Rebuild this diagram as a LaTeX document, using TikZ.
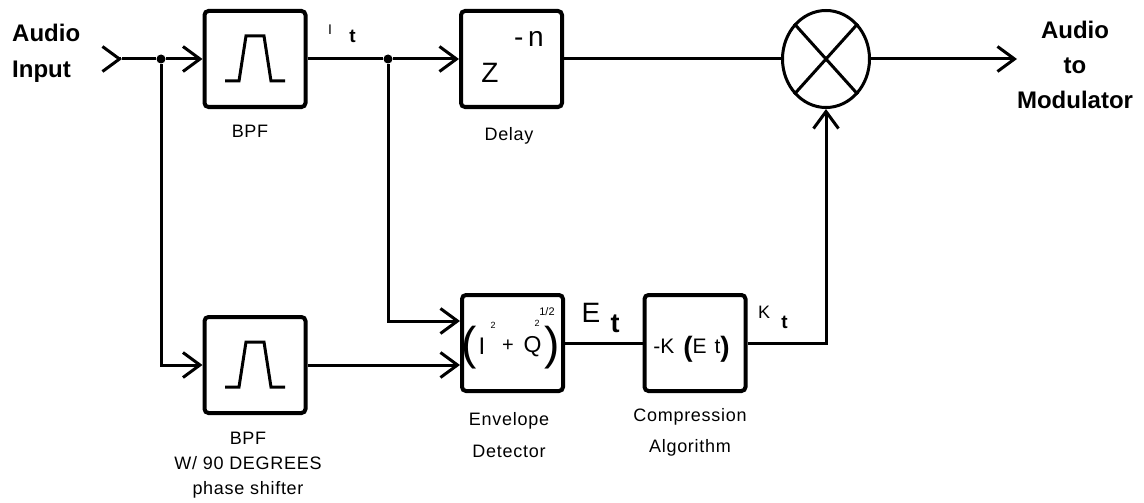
\documentclass[tikz,border=0pt]{standalone}
\usepackage{fontspec}
\setmainfont{Liberation Sans}
\newfontfamily\capfont{Liberation Sans}[LetterSpace=4]
\usetikzlibrary{arrows.meta,shapes.geometric,calc}

\tikzset{
  wire/.style={line width=3pt},
  flow/.style={wire,-{Straight Barb[length=17pt,width=25pt]}},
  block/.style={draw,line width=4pt,rounded corners=4pt,minimum width=101pt,minimum height=96pt,inner sep=0pt},
  mixer/.style={draw,ellipse,line width=3pt,minimum width=87pt,minimum height=97pt,inner sep=0pt},
  dot/.style={circle,fill,inner sep=0pt,minimum size=9pt},
  txt/.style={inner sep=0pt},
  caption/.style={font=\capfont\fontsize{18}{25}\selectfont,align=center,inner sep=0pt,anchor=north},
  symb/.style={line width=3pt,line join=miter}
}

% band-pass sketch inside a filter block
\newcommand{\passband}[1]{%
  \draw[symb] ($(#1)+(-30,22)$) -- ++(14,0) -- ++(7,-45) -- ++(18,0) -- ++(7,45) -- ++(14,0);}

\begin{document}
\begin{tikzpicture}[x=1pt,y=-1pt]
    \useasboundingbox (0,0) rectangle (1144,503);

    % Blocks
    \node[block] (bpf1) at (255,59) {};
    \node[block] (delay) at (511.5,59) {};
    \node[block] (bpf2) at (255,365) {};
    \node[block] (env) at (512.5,343) {};
    \node[block] (comp) at (695,343) {};
    \node[mixer] (mix) at (826,59) {};
    \draw[wire] (mix.north west) -- (mix.south east);
    \draw[wire] (mix.north east) -- (mix.south west);

    % Filter symbols
    \passband{bpf1}
    \passband{bpf2}

    % Delay
    \node[txt,font=\fontsize{28}{28}\selectfont] (zed) at (490,73) {Z};
    \node[txt,font=\fontsize{28}{28}\selectfont,anchor=base west] (negn) at (514,47) {-\,n};

    % Envelope formula
    \node[txt,font=\fontsize{46}{46}\selectfont] (lpar) at (469,347.5) {(};
    \node[txt,font=\fontsize{24}{24}\selectfont] (isym) at (482,346.5) {I};
    \node[txt,font=\fontsize{9}{9}\selectfont] (isq) at (493,325) {2};
    \node[txt,font=\fontsize{20}{20}\selectfont] (plus) at (508,346) {+};
    \node[txt,font=\fontsize{23}{23}\selectfont] (qsym) at (532.5,346.5) {Q};
    \node[txt,font=\fontsize{9}{9}\selectfont] (qsq) at (537,323.5) {2};
    \node[txt,font=\fontsize{11}{11}\selectfont] (half) at (547,311.5) {1/2};
    \node[txt,font=\fontsize{46}{46}\selectfont] (rpar) at (552,347.5) {)};

    % Compression formula
    \node[txt,anchor=base,font=\fontsize{21}{21}\selectfont] (kfun) at (691.5,353)
      {-K\hspace{9pt}\raisebox{-3pt}{\fontsize{28}{28}\selectfont\bfseries(}E\hspace{8pt}t\raisebox{-3pt}{\fontsize{28}{28}\selectfont\bfseries)}};

    % Signal names
    \node[txt,anchor=base,font=\fontsize{14}{14}\selectfont] (itname) at (330,35) {I};
    \node[txt,anchor=base,font=\fontsize{19}{19}\selectfont\bfseries] (itsub) at (352.5,43) {t};
    \node[txt,anchor=base,font=\fontsize{28}{28}\selectfont] (etname) at (591,322) {E};
    \node[txt,anchor=base,font=\fontsize{27}{27}\selectfont\bfseries] (etsub) at (615,332) {t};
    \node[txt,anchor=base,font=\fontsize{18}{18}\selectfont] (ktname) at (764,318) {K};
    \node[txt,anchor=base,font=\fontsize{19}{19}\selectfont\bfseries] (ktsub) at (784.5,328) {t};

    % Captions
    \node[caption] (bpf1cap) at (250,125) {BPF};
    \node[caption] (delaycap) at (509,127) {Delay};
    \node[caption] (bpf2cap) at (248,432) {BPF\\W/ 90 DEGREES\\phase shifter};
    \node[caption,font=\capfont\fontsize{18}{32}\selectfont] (envcap) at (509,412) {Envelope\\Detector};
    \node[caption,font=\capfont\fontsize{18}{31}\selectfont] (compcap) at (690,408) {Compression\\Algorithm};

    % Input and output
    \node[txt,anchor=west,align=left,font=\fontsize{24}{36}\selectfont\bfseries] (audin) at (12,53.5) {Audio\\Input};
    \node[txt,align=center,font=\fontsize{24}{35}\selectfont\bfseries] (audout) at (1075,64.5) {Audio\\to\\Modulator};

    % Wiring
    \coordinate (in) at (122,59);
    \coordinate (out) at (1017,59);
    \node[dot] (j1) at (161,59) {};
    \node[dot] (j2) at (388,59) {};
    \draw[flow] ([xshift=-1pt]in) -- (in);
    \draw[wire] (in) -- (j1);
    \draw[flow] (j1) -- (bpf1.west);
    \draw[wire] (bpf1.east) -- (j2);
    \draw[flow] (j2) -- (delay.west);
    \draw[wire] (delay.east) -- (mix.west);
    \draw[flow] (mix.east) -- (out);
    \draw[flow] (j1) |- (bpf2.west);
    \draw[flow] (j2) |- ([yshift=22pt]env.west);
    \draw[flow] (bpf2.east) -- ([yshift=-22pt]env.west);
    \draw[wire] (env.east) -- (comp.west);
    \draw[flow] (comp.east) -| (mix.south);
\end{tikzpicture}
\end{document}
